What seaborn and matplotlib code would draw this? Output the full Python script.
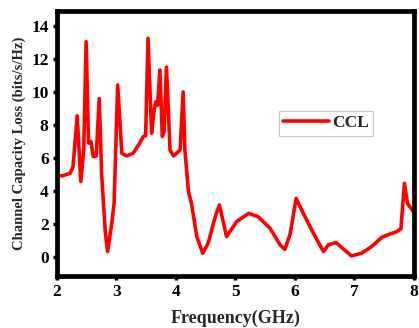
import matplotlib
matplotlib.use("Agg")
import matplotlib.pyplot as plt
import seaborn as sns
import pandas as pd

# Channel capacity loss vs frequency
freq_ghz = [2.00, 2.10, 2.22, 2.27, 2.34, 2.40, 2.45, 2.49, 2.53, 2.57, 2.61, 2.66,
            2.71, 2.75, 2.81, 2.85, 2.92, 2.96, 3.02, 3.09, 3.17, 3.28, 3.39, 3.45,
            3.49, 3.53, 3.59, 3.63, 3.66, 3.69, 3.73, 3.77, 3.80, 3.84, 3.90, 3.96,
            4.07, 4.12, 4.15, 4.21, 4.26, 4.35, 4.45, 4.54, 4.66, 4.73, 4.85, 5.02,
            5.22, 5.38, 5.58, 5.75, 5.83, 5.92, 6.02, 6.14, 6.31, 6.48, 6.56, 6.69,
            6.78, 6.95, 7.12, 7.29, 7.46, 7.60, 7.71, 7.78, 7.84, 7.89, 8.00]
ccl = [4.90, 4.92, 5.07, 5.47, 8.55, 4.57, 6.50, 13.05, 6.90, 7.00, 6.08, 6.12,
       9.60, 5.07, 1.60, 0.32, 2.00, 3.25, 10.42, 6.28, 6.12, 6.28, 6.89, 7.29,
       7.35, 13.25, 7.50, 8.80, 9.40, 9.20, 11.33, 7.30, 7.60, 11.50, 6.48, 6.12,
       6.48, 10.00, 6.48, 3.96, 3.25, 1.23, 0.22, 0.83, 2.44, 3.15, 1.23, 2.14,
       2.64, 2.44, 1.74, 0.73, 0.46, 1.40, 3.55, 2.64, 1.43, 0.32, 0.73, 0.87,
       0.59, 0.06, 0.22, 0.63, 1.19, 1.39, 1.53, 1.70, 4.46, 3.25, 2.70]

x_ticks = [2, 3, 4, 5, 6, 7, 8]
y_ticks = [0, 2, 4, 6, 8, 10, 12, 14]

df = pd.DataFrame({"Frequency": freq_ghz, "CCL": ccl})

sns.set_style("ticks")
plt.rcParams["font.family"] = ["Liberation Serif", "DejaVu Serif"]
plt.rcParams["font.weight"] = "bold"

fig = plt.figure(figsize=(4.19, 3.28), dpi=100)
ax = fig.add_axes([0.136, 0.159, 0.852, 0.807])

sns.lineplot(data=df, x="Frequency", y="CCL", ax=ax, color="#ff0000",
             linewidth=2.6, label="CCL")

ax.set_xlim(2, 8)
ax.set_ylim(-1.15, 14.9)
ax.set_xticks(x_ticks)
ax.set_yticks(y_ticks)
ax.set_xticklabels([str(t) for t in x_ticks], fontsize=12.5, fontweight="bold")
ax.set_yticklabels([str(t) for t in y_ticks], fontsize=12.5, fontweight="bold")
ax.set_xlabel("Frequency(GHz)", fontsize=13, fontweight="bold", labelpad=7)
ax.set_ylabel("Channel Capacity Loss (bits/s/Hz)", fontsize=10.5, fontweight="bold",
              labelpad=4)

for side in ["left", "right", "top", "bottom"]:
    ax.spines[side].set_visible(True)
    ax.spines[side].set_linewidth(3.4)
    ax.spines[side].set_color("black")
ax.tick_params(axis="both", direction="out", length=3, width=2.5, pad=3, colors="black")

leg = ax.legend(loc="upper left", bbox_to_anchor=(0.622, 0.623), borderaxespad=0,
                frameon=True, fancybox=False, fontsize=12.5, handlelength=2.6,
                handletextpad=0.2, borderpad=0.25)
leg.get_frame().set_edgecolor("#bbbbbb")
leg.get_frame().set_linewidth(0.8)
for t in leg.get_texts():
    t.set_fontweight("bold")

fig.savefig("out.png", dpi=100)
